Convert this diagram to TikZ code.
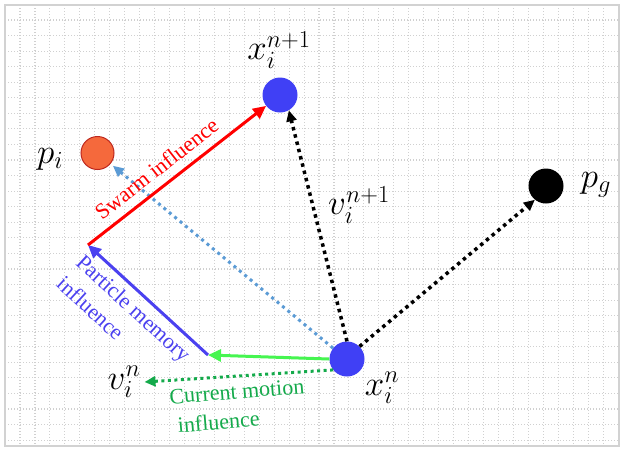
\RequirePackage{fix-cm}
\documentclass[tikz,border=0pt]{standalone}
\usepackage{fontspec}
\setmainfont{Liberation Serif}
\usepackage{tikz}
\usetikzlibrary{arrows.meta,positioning}
\definecolor{ptblue}{RGB}{64,64,245}
\definecolor{pborange}{RGB}{245,105,60}
\definecolor{pbborder}{RGB}{190,40,30}
\definecolor{memblue}{RGB}{75,65,240}
\definecolor{curgreen}{RGB}{70,245,80}
\definecolor{motgreen}{RGB}{20,170,75}
\definecolor{bestblue}{RGB}{91,155,213}
\definecolor{gridgray}{RGB}{208,208,208}
\definecolor{framegray}{RGB}{210,210,210}

\begin{document}
\begin{tikzpicture}[x=1pt, y=-1pt,
    particle/.style={circle, inner sep=0pt, minimum size=35pt},
    mathlbl/.style={inner sep=0pt, font=\fontsize{35}{37}\selectfont},
    infl/.style={inner sep=0pt, font=\fontsize{22}{29}\selectfont, align=left},
    solidarr/.style={-{Triangle[length=13pt,width=12pt]}, line width=3pt},
    dotarr/.style={-{Triangle[length=11pt,width=10pt]}, line width=3.5pt, dash pattern=on 3.5pt off 4pt},
    gridline/.style={gridgray, line width=1.1pt, dash pattern=on 1.1pt off 1.9pt}
]
\useasboundingbox (0,0) rectangle (620,448);
\fill[white] (0,0) rectangle (620,448);

% dotted grid
\foreach \gx in {0,...,39}
  \draw[gridline] ({20+14.95*\gx},5) -- ({20+14.95*\gx},446);
\foreach \gy in {0,...,27}
  \draw[gridline] (5,{20+15.56*\gy}) -- (618,{20+15.56*\gy});
\draw[framegray, line width=2pt] (4.5,5) rectangle (618.5,446);

% particles
\node[particle, fill=ptblue] (xn) at (347,359) {};
\node[particle, fill=ptblue] (xn1) at (280,95) {};
\node[particle, fill=pborange, draw=pbborder, line width=1pt, minimum size=33pt] (pi) at (97.5,153) {};
\node[particle, fill=black] (pg) at (546,186) {};

% symbols
\node[mathlbl] (xn1lbl) at (279,50) {$x_i^{n+1}$};
\node[mathlbl] (xnlbl) at (382,388) {$x_i^n$};
\node[mathlbl] (pilbl) at (50,159) {$p_i$};
\node[mathlbl] (pglbl) at (596,185) {$p_g$};
\node[mathlbl] (vn1lbl) at (359,205) {$v_i^{n+1}$};
\node[mathlbl] (vnlbl) at (124,382) {$v_i^n$};

\coordinate (pm) at (208,355);
\coordinate (sw) at (88,245);

% velocity parts
\draw[dotarr, bestblue, line width=3pt, dash pattern=on 3pt off 4pt, shorten >=3pt] (xn.142) -- (pi);
\draw[dotarr] (xn.north) -- (xn1.-60);
\draw[dotarr] (xn.45) -- (pg.231);
\draw[dotarr, motgreen, line width=3pt, dash pattern=on 3pt off 3.5pt] (xn.218) -- ([xshift=4pt]vnlbl.east);
\draw[solidarr, curgreen] (xn.west) -- (pm);
\draw[solidarr, memblue] (pm) -- (sw);
\draw[solidarr, red] (sw) -- (xn1);

\node[infl, red, rotate=38] (swarm) at (156.5,168.5) {Swarm influence};
\node[infl, memblue, rotate=-42.5] (memory) at (124,319) {Particle memory\\influence};
\node[infl, motgreen, rotate=4.6] (motion) at (238,406) {Current motion\\\hspace{6pt}influence};

\end{tikzpicture}
\end{document}
